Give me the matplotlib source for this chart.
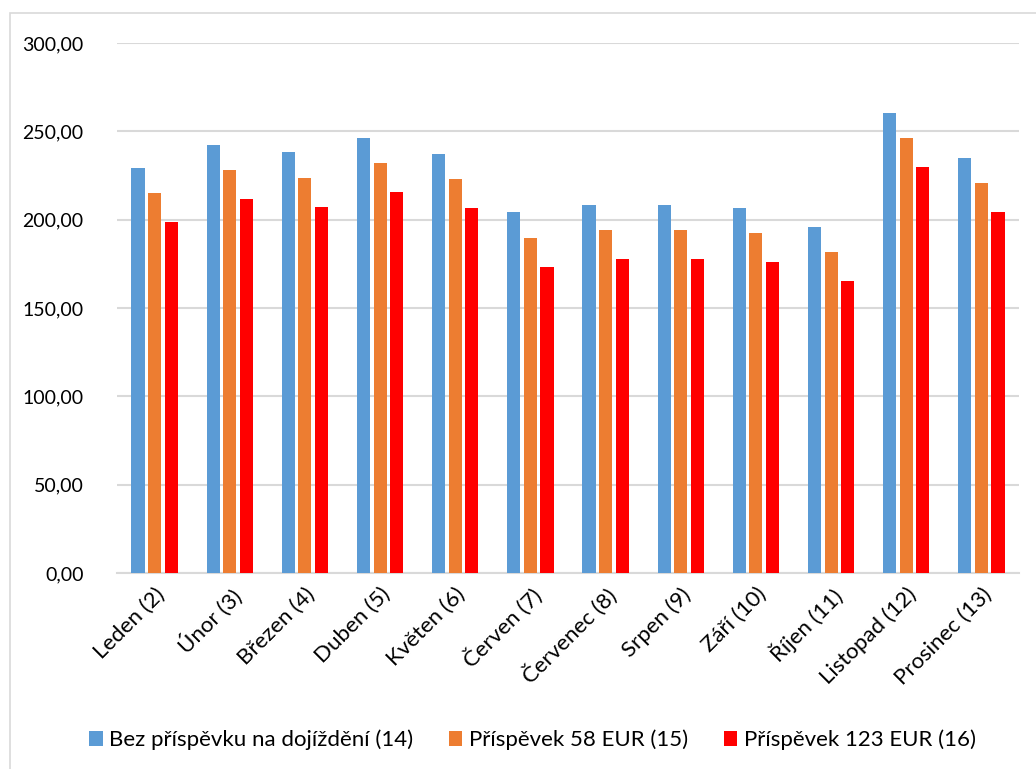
import matplotlib.pyplot as plt
import numpy as np
from matplotlib.patches import Rectangle

months = ['Leden (2)', 'Únor (3)', 'Březen (4)', 'Duben (5)', 'Květen (6)', 'Červen (7)',
          'Červenec (8)', 'Srpen (9)', 'Září (10)', 'Říjen (11)', 'Listopad (12)', 'Prosinec (13)']
bez = [229.2, 242.3, 238.3, 246.2, 237.2, 204.3, 208.3, 208.3, 206.6, 195.8, 260.4, 234.9]
p58 = [215.1, 228.1, 223.6, 232.1, 223.0, 189.6, 194.2, 194.2, 192.5, 181.7, 246.2, 220.8]
p123 = [198.7, 211.7, 207.2, 215.7, 206.6, 173.2, 177.7, 177.7, 176.0, 165.3, 229.8, 204.3]
names = ['Bez příspěvku na dojíždění (14)', 'Příspěvek 58 EUR (15)', 'Příspěvek 123 EUR (16)']
colors = ['#5B9BD5', '#ED7D31', '#FF0000']

plt.rcParams['font.family'] = ['Lato', 'DejaVu Sans']
plt.rcParams['font.size'] = 14

fig = plt.figure(figsize=(10.36, 7.69), dpi=100)
ax = fig.add_axes([117/1036, 1-573/769, 902/1036, 530/769])

# outer chart border (only left and top edges fall inside the image)
fig.patches.append(Rectangle((10/1036, -0.1), 1.2, (769-13)/769 + 0.1, transform=fig.transFigure,
                             fill=False, edgecolor='#d9d9d9', linewidth=1.2))

x = np.arange(len(months))
w = 0.175
off = 0.22
for i, (vals, c, n) in enumerate(zip([bez, p58, p123], colors, names)):
    ax.bar(x + (i-1)*off, vals, w, color=c, label=n, zorder=3)

ax.set_xlim(-0.5, len(months)-0.5)
ax.set_ylim(0, 300)
ax.set_yticks(np.arange(0, 301, 50))
ax.set_yticklabels(['%d,00' % v for v in range(0, 301, 50)])
ax.yaxis.grid(True, color='#d9d9d9', linewidth=1.5, zorder=0)
for s in ['top', 'right', 'left']:
    ax.spines[s].set_visible(False)
ax.spines['bottom'].set_color('#d9d9d9')
ax.spines['bottom'].set_linewidth(1.5)
ax.tick_params(axis='y', length=0, pad=24, labelsize=14)
ax.tick_params(axis='x', length=0, pad=8, labelsize=16)
ax.set_xticks(x)
ax.set_xticklabels(months, rotation=45, ha='right', rotation_mode='anchor')

fig.legend(loc='center', bbox_to_anchor=(0.514, 1-740/769), ncol=3, frameon=False,
           fontsize=16, handlelength=0.6, handleheight=0.6, handletextpad=0.3,
           columnspacing=1.6)

fig.savefig('out.png', dpi=100)
